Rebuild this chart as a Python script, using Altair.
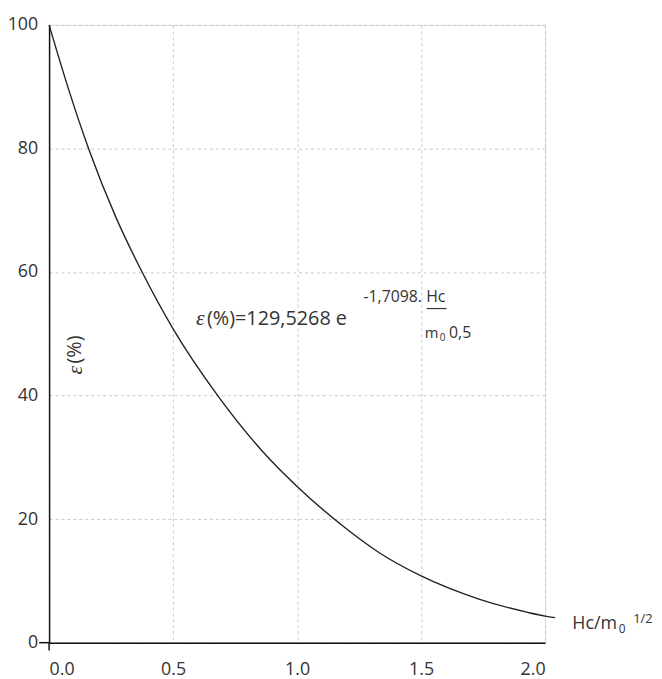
import altair as alt
import pandas as pd

# Curve
x_vals = [0.0, 0.08, 0.159, 0.27, 0.375, 0.5, 0.68, 0.86, 1.0, 1.2, 1.33, 1.5, 1.73, 1.93, 2.0, 2.04]
y_vals = [100.0, 89.4, 80.0, 68.8, 60.0, 50.8, 40.0, 31.0, 25.3, 18.4, 14.6, 10.8, 7.1, 4.9, 4.3, 4.05]

x_ticks = [0.0, 0.5, 1.0, 1.5, 2.0]
y_ticks = [0, 20, 40, 60, 80, 100]

FONT = "Open Sans"
SERIF = "Liberation Serif"
TXT = "#333333"

W, H = 501, 624

df = pd.DataFrame({"x": x_vals, "y": y_vals})

xscale = alt.Scale(domain=[0, 2], nice=False, zero=False)
yscale = alt.Scale(domain=[0, 100], nice=False)

curve = alt.Chart(df).mark_line(
    color="#222222", strokeWidth=1.4, interpolate="monotone", clip=False
).encode(
    x=alt.X("x:Q", scale=xscale, axis=alt.Axis(
        values=x_ticks, format=".1f", title=None, ticks=False,
        labelPadding=18, labelFontSize=18, labelFont=FONT, labelColor=TXT,
        domainColor="#111111", domainWidth=1.5,
        grid=True, gridDash=[3, 3], gridColor="#c8c8c8", gridWidth=1,
    )),
    y=alt.Y("y:Q", scale=yscale, axis=alt.Axis(
        values=y_ticks, format="d", title=None, ticks=False,
        labelPadding=11.5, labelFontSize=18, labelFont=FONT, labelColor=TXT,
        domainColor="#111111", domainWidth=1.5,
        grid=True, gridDash=[3, 3], gridColor="#c8c8c8", gridWidth=1,
    )),
)

base = alt.Chart(pd.DataFrame({"d": [0]}))

def txt(text, x, y, size, font=FONT, style="normal", align="left", baseline="alphabetic", angle=0):
    kw = dict(text=text, fontSize=size, font=font, fontStyle=style, color=TXT,
              align=align, baseline=baseline)
    if angle:
        kw["angle"] = angle
    return base.mark_text(**kw).encode(x=alt.value(x), y=alt.value(y))

# origin tick marks
tick_left = base.mark_rule(color="#111111", strokeWidth=1.5).encode(
    x=alt.value(-10), x2=alt.value(0), y=alt.value(H))
tick_down = base.mark_rule(color="#111111", strokeWidth=1.5).encode(
    x=alt.value(0), y=alt.value(H), y2=alt.value(H + 8))

# formula
f1 = txt("ε", 148.5, 303.3, 22, font=SERIF, style="italic")
f2 = txt("(%)=129,5268 e", 159.5, 303.3, 20)
f3 = txt("-1,7098. Hc", 317.5, 280, 16)
uline = base.mark_rule(color=TXT, strokeWidth=1.2).encode(
    x=alt.value(381.5), x2=alt.value(401.5), y=alt.value(286.5))
f4 = txt("m", 379.5, 316.6, 15)
f5 = txt("0", 394.5, 319.5, 10)
f6 = txt("0,5", 404, 316.6, 16)

# x axis title
t1 = txt("Hc/m", 528.5, 610, 18)
t2 = txt("0", 575.5, 614, 12)
t3 = txt("1/2", 590, 604.5, 13)

# y axis title (rotated)
y1 = txt("ε", 26.5, 353, 22, font=SERIF, style="italic", baseline="middle", angle=270)
y2 = txt("(%)", 26.5, 342, 20, baseline="middle", angle=270)

chart = alt.layer(
    curve, tick_left, tick_down, f1, f2, f3, uline, f4, f5, f6, t1, t2, t3, y1, y2
).properties(
    width=W, height=H,
    autosize=alt.AutoSizeParams(type="none"),
    padding={"left": 41.5, "top": 13.7, "right": 110, "bottom": 33},
).configure_view(stroke=None).configure(background="white")

chart.save("out.html", embed_options={"renderer": "svg", "actions": False})
